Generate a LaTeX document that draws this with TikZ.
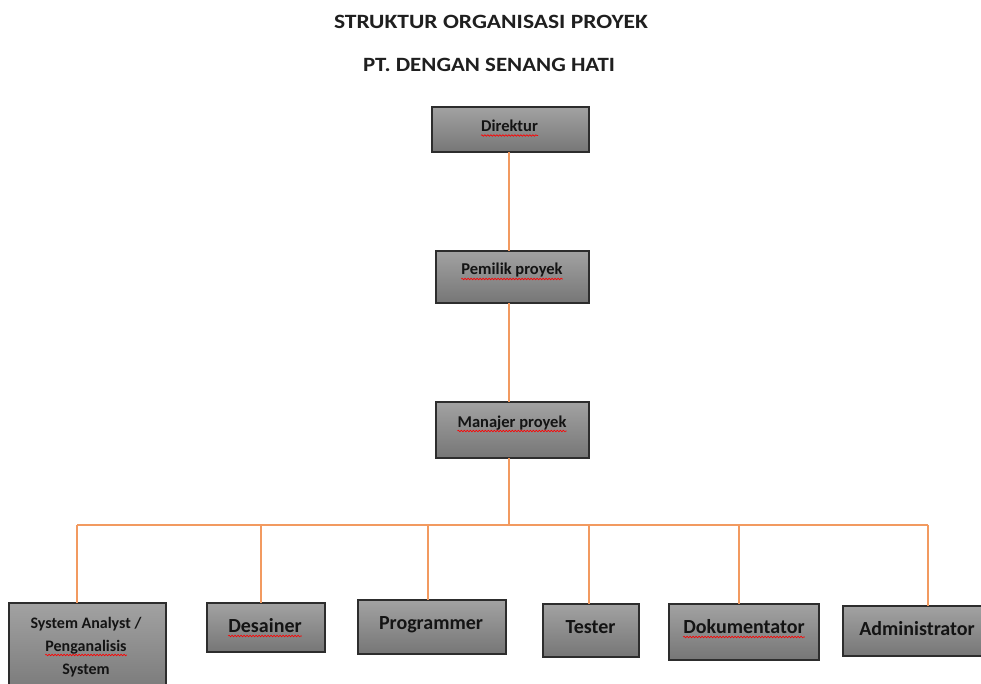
\documentclass[tikz,border=0pt]{standalone}
\usepackage{fontspec}
\setmainfont{Carlito}
\usetikzlibrary{decorations.pathmorphing}
\definecolor{conn}{RGB}{242,154,96}
\definecolor{boxedge}{RGB}{45,45,45}
\definecolor{boxtop}{RGB}{162,162,162}
\definecolor{boxbot}{RGB}{118,118,118}
\tikzset{
  box/.style={rectangle, draw=boxedge, line width=1.5pt, top color=boxtop, bottom color=boxbot, inner sep=0pt, outer sep=0pt},
  lbl/.style={inner sep=0pt, anchor=base, text=black!92},
  lbltop/.style={lbl, font=\fontsize{16.5}{20}\selectfont\bfseries},
  lblbot/.style={lbl, font=\fontsize{20}{24}\selectfont\bfseries},
  lblsa/.style={lbl, font=\fontsize{16}{20}\selectfont\bfseries},
  titletext/.style={inner sep=0pt, anchor=base, font=\bfseries, text=black!88},
  conline/.style={draw=conn, line width=1.5pt},
  squig/.style={draw=red, line width=0.6pt, decorate, decoration={snake, amplitude=0.8pt, segment length=3pt}},
}
\begin{document}
\begin{tikzpicture}[x=1pt, y=-1pt]
\clip (0,0) rectangle (981,684);
\fill[white] (0,0) rectangle (981,684);

% titles
\node[titletext] (t1) at (491,28.3) {\resizebox{314pt}{13.3pt}{STRUKTUR ORGANISASI PROYEK}};
\node[titletext] (t2) at (489,71.7) {\resizebox{252pt}{13.3pt}{PT. DENGAN SENANG HATI}};

% boxes
\node[box, minimum width=157pt, minimum height=45pt] (dir) at (510.5,129.5) {};
\node[box, minimum width=153pt, minimum height=52pt] (pem) at (512.5,277) {};
\node[box, minimum width=153pt, minimum height=56pt] (man) at (512.5,430) {};
\node[box, minimum width=157pt, minimum height=97pt] (sa) at (87.5,651.5) {};
\node[box, minimum width=118pt, minimum height=49pt] (des) at (266,627.5) {};
\node[box, minimum width=148pt, minimum height=54pt] (prog) at (432,627) {};
\node[box, minimum width=96pt, minimum height=53pt] (tes) at (591,630.5) {};
\node[box, minimum width=150pt, minimum height=56pt] (dok) at (744,632) {};
\node[box, minimum width=142pt, minimum height=50pt] (adm) at (914,631) {};

% labels
\node[lbltop] (dirT) at (509.5,131.5) {Direktur};
\node[lbltop] (pemT) at (512,275) {Pemilik proyek};
\node[lbltop] (manT) at (512,427) {Manajer proyek};
\node[lblsa] (saT1) at (86,628) {System Analyst /};
\node[lblsa] (saT2) at (86,651) {Penganalisis};
\node[lblsa] (saT3) at (86,674) {System};
\node[lblbot] (desT) at (265,632) {Desainer};
\node[lblbot] (progT) at (431,629) {Programmer};
\node[lblbot] (tesT) at (590.5,633) {Tester};
\node[lblbot] (dokT) at (744,633) {Dokumentator};
\node[lblbot] (admT) at (917,635) {Administrator};

% spell-check underlines
\foreach \n in {dirT,pemT,manT,saT2,desT,dokT}{
  \draw[squig] ([yshift=-4pt]\n.base west) -- ([yshift=-4pt]\n.base east);
}

% connectors
\coordinate (spine) at (509,525);
\coordinate (c1) at (77,525);
\coordinate (c2) at (261,525);
\coordinate (c3) at (428,525);
\coordinate (c4) at (589,525);
\coordinate (c5) at (739,525);
\coordinate (c6) at (928,525);

\draw[conline] (spine |- dir.south) -- (spine |- pem.north);
\draw[conline] (spine |- pem.south) -- (spine |- man.north);
\draw[conline] (spine |- man.south) -- (spine);
\draw[conline] (c1) -- (c6);
\draw[conline] (c1) -- (c1 |- sa.north);
\draw[conline] (c2) -- (c2 |- des.north);
\draw[conline] (c3) -- (c3 |- prog.north);
\draw[conline] (c4) -- (c4 |- tes.north);
\draw[conline] (c5) -- (c5 |- dok.north);
\draw[conline] (c6) -- (c6 |- adm.north);
\end{tikzpicture}
\end{document}
